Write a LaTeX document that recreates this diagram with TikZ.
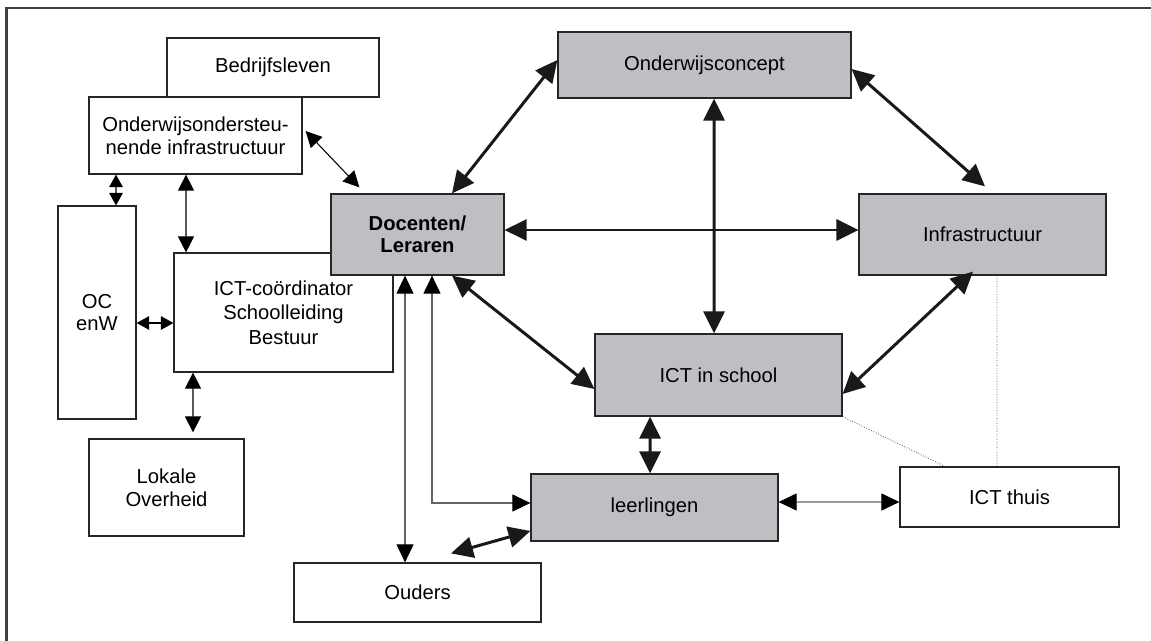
\documentclass[tikz,border=0pt]{standalone}
\usepackage{fontspec}
\setmainfont{Liberation Sans}
\usetikzlibrary{arrows.meta}

\definecolor{boxgray}{RGB}{190,191,195}
\definecolor{linegray}{RGB}{100,100,100}

\begin{document}
\begin{tikzpicture}[x=0.02cm, y=-0.02cm,
    every node/.style={font=\fontsize{11.5}{13}\selectfont},
    whitebox/.style={draw=black!85, line width=0.7pt, fill=white, align=center, inner sep=0pt},
    graybox/.style={whitebox, fill=boxgray},
    biglink/.style={{Triangle[length=4.4mm,width=4.2mm]}-{Triangle[length=4.4mm,width=4.2mm]}, line width=1.7pt, black!90},
    smalllink/.style={{Triangle[length=3.6mm,width=3.4mm,color=black]}-{Triangle[length=3.6mm,width=3.4mm,color=black]}, line width=0.6pt, linegray},
    leftlink/.style={{Triangle[length=3.2mm,width=3.2mm]}-{Triangle[length=3.2mm,width=3.2mm]}, line width=0.6pt, black},
    shortlink/.style={{Triangle[length=2.5mm,width=2.7mm]}-{Triangle[length=2.5mm,width=2.7mm]}, line width=0.7pt, black},
    dotline/.style={densely dotted, line width=0.5pt, linegray}]
    \useasboundingbox (0,0) rectangle (1151,641);
    \draw[line width=1.2pt, black!75] (6.5,641) -- (6.5,8) -- (1151,8);

    % left part
    \node[whitebox, minimum width=4.24cm, minimum height=1.18cm] (bedrijf) at (273,67.5) {Bedrijfsleven};
    \node[whitebox, minimum width=4.26cm, minimum height=1.54cm] (ondinfra) at (195.5,135.5) {Onderwijsondersteu-\\nende infrastructuur};
    \node[whitebox, minimum width=1.56cm, minimum height=4.26cm] (ocw) at (97,312.5) {OC\\enW};
    \node[whitebox, minimum width=4.38cm, minimum height=2.38cm, font=\fontsize{11.5}{14}\selectfont] (ictcoord) at (283.5,312.5) {ICT-coördinator\\Schoolleiding\\Bestuur};
    \node[whitebox, minimum width=3.1cm, minimum height=1.94cm] (lokale) at (166.5,487.5) {Lokale\\Overheid};

    % core
    \node[graybox, minimum width=3.46cm, minimum height=1.62cm, font=\fontsize{11.5}{12.5}\selectfont\bfseries] (docenten) at (417.5,234.5) {Docenten/\\Leraren};
    \node[graybox, minimum width=5.86cm, minimum height=1.32cm] (concept) at (704.5,65) {Onderwijsconcept};
    \node[graybox, minimum width=4.94cm, minimum height=1.62cm] (infra) at (982.5,234.5) {Infrastructuur};
    \node[graybox, minimum width=4.94cm, minimum height=1.64cm] (ictschool) at (718.5,375) {ICT in school};
    \node[graybox, minimum width=4.94cm, minimum height=1.34cm] (leerlingen) at (654.5,507.5) {leerlingen};
    \node[whitebox, minimum width=4.38cm, minimum height=1.2cm] (thuis) at (1009.5,497) {ICT thuis};
    \node[whitebox, minimum width=4.94cm, minimum height=1.18cm] (ouders) at (417.5,592.5) {Ouders};

    % thick links
    \draw[biglink] ([xshift=0.69cm]docenten.north) -- ([yshift=0.1cm]concept.west);
    \draw[biglink] ([yshift=-0.08cm]concept.east) -- ([xshift=0.05cm,yshift=0.14cm]infra.north);
    \draw[biglink] ([xshift=0.19cm]concept.south) -- ([xshift=-0.09cm]ictschool.north);
    \draw[biglink] ([yshift=0.09cm]docenten.east) -- ([yshift=0.09cm]infra.west);
    \draw[biglink] ([xshift=0.69cm]docenten.south) -- ([yshift=-0.28cm]ictschool.west);
    \draw[biglink] ([yshift=-0.38cm]ictschool.east) -- ([xshift=-0.19cm,yshift=0.08cm]infra.south);
    \draw[biglink] ([xshift=-1.37cm]ictschool.south) -- ([xshift=-0.09cm]leerlingen.north);
    \draw[biglink] ([xshift=0.67cm,yshift=0.18cm]ouders.north) -- ([yshift=-0.47cm]leerlingen.west);

    % thin links
    \draw[smalllink] ([xshift=-0.25cm]docenten.south) -- ([xshift=-0.25cm]ouders.north);
    \draw[smalllink] ([xshift=0.29cm]docenten.south) |- ([yshift=0.09cm]leerlingen.west);
    \draw[smalllink] ([yshift=0.11cm]leerlingen.east) -- ([yshift=-0.1cm]thuis.west);
    \draw[leftlink] ([xshift=0.06cm,yshift=0.09cm]ondinfra.east) -- ([xshift=0.58cm,yshift=0.12cm]docenten.north west);
    \draw[shortlink] ([xshift=-1.59cm]ondinfra.south) -- ([xshift=0.38cm]ocw.north);
    \draw[leftlink] ([xshift=-0.19cm]ondinfra.south) -- ([xshift=-1.95cm]ictcoord.north);
    \draw[shortlink] ([yshift=-0.21cm]ocw.east) -- ([yshift=-0.21cm]ictcoord.west);
    \draw[leftlink] ([xshift=-1.81cm]ictcoord.south) -- ([xshift=0.53cm,yshift=0.12cm]lokale.north);

    % dotted
    \draw[dotline] (ictschool.south east) -- ([xshift=-1.29cm]thuis.north);
    \draw[dotline] ([xshift=0.29cm]infra.south) -- ([xshift=-0.25cm]thuis.north);
\end{tikzpicture}
\end{document}
